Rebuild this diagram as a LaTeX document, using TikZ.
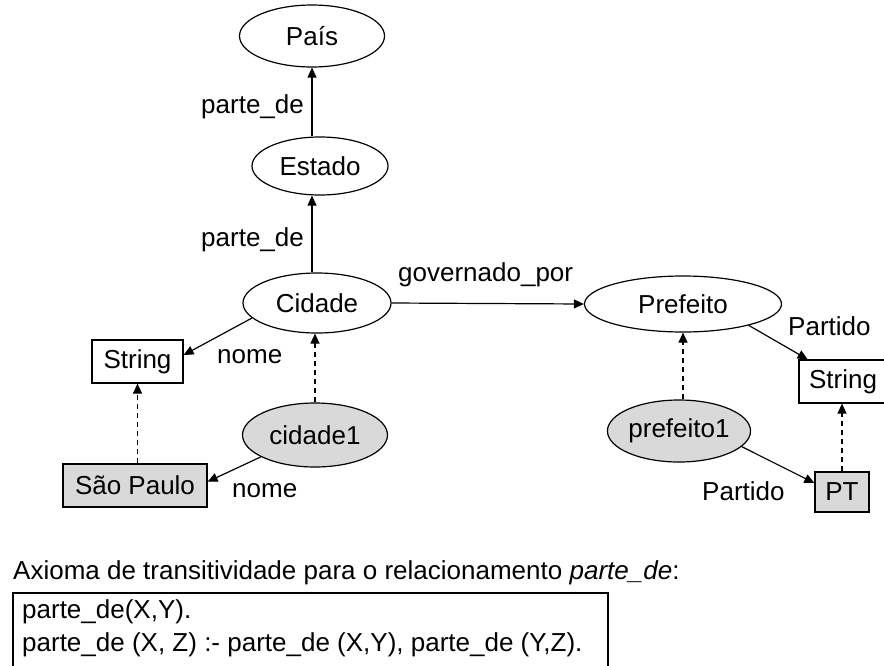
\documentclass[tikz,border=0pt]{standalone}
\usepackage{fontspec}
\setmainfont{Liberation Sans}
\usetikzlibrary{arrows.meta,shapes.geometric}
\begin{document}
\begin{tikzpicture}[x=1pt,y=-1pt,
  every node/.style={font=\fontsize{26}{31}\selectfont},
  cls/.style={ellipse,draw,line width=1.2pt,inner sep=0pt},
  inst/.style={cls,fill=gray!30},
  typebox/.style={rectangle,draw,line width=1.2pt,inner sep=0pt,minimum height=43pt},
  valbox/.style={typebox,fill=gray!30},
  rel/.style={line width=1.2pt,-{Triangle[length=10pt,width=9pt]}},
  isa/.style={rel,dash pattern=on 5pt off 4pt},
  lbl/.style={inner sep=0pt,anchor=base west}]
\useasboundingbox (0,0) rectangle (884,665);

% classes
\node[cls,minimum width=145pt,minimum height=62pt] (pais) at (312,36) {País};
\node[cls,minimum width=136pt,minimum height=58pt] (estado) at (320,166) {Estado};
\node[cls,minimum width=148pt,minimum height=60pt] (cidade) at (317,303) {Cidade};
\node[cls,minimum width=197pt,minimum height=56pt] (prefeito) at (683,304) {Prefeito};
% instances
\node[inst,minimum width=145pt,minimum height=64pt] (cidade1) at (315,435) {cidade1};
\node[inst,minimum width=143pt,minimum height=62pt] (prefeito1) at (679,431) {prefeito1};
% types and values
\node[typebox,minimum width=91pt] (string1) at (137.5,361.5) {String};
\node[valbox,minimum width=144pt] (saopaulo) at (135,485.5) {São Paulo};
\node[typebox,minimum width=88pt] (string2) at (843,381.5) {String};
\node[valbox,minimum width=54pt,minimum height=40pt] (pt) at (842,492) {PT};

% relations
\draw[rel] (pais.south |- estado.north) -- (pais.south);
\draw[rel] (pais.south |- cidade.north) -- (pais.south |- estado.south);
\draw[rel] (cidade.east) -- (prefeito.west);
\draw[rel] (cidade.193) -- (string1.8);
\draw[rel] (cidade1.202) -- (saopaulo.3);
\draw[rel] (prefeito.342) -- (string2.148);
\draw[rel] (prefeito1.346) -- (pt.162);
% instance-of links
\draw[isa] (cidade1.north) -- (cidade1.north |- cidade.south);
\draw[isa] (string1.south |- saopaulo.north) -- (string1.south);
\draw[isa] (prefeito.south |- prefeito1.north) -- (prefeito.south);
\draw[isa] (pt.north) -- (pt.north |- string2.south);

% relation labels
\node[lbl] (l1) at (201,113) {parte\_de};
\node[lbl] (l2) at (201,246) {parte\_de};
\node[lbl] (l3) at (398,281) {governado\_por};
\node[lbl] (l4) at (217,363) {nome};
\node[lbl] (l5) at (232,497) {nome};
\node[lbl] (l6) at (788,335) {Partido};
\node[lbl] (l7) at (702,500) {Partido};

% axiom
\node[lbl] (ax) at (13,579) {Axioma de transitividade para o relacionamento \textit{parte\_de}:};
\draw[line width=1.2pt] (13,593) rectangle (608,700);
\node[lbl] (r1) at (22,618) {parte\_de(X,Y).};
\node[lbl] (r2) at (22,651) {parte\_de (X, Z) :- parte\_de (X,Y), parte\_de (Y,Z).};
\end{tikzpicture}
\end{document}
